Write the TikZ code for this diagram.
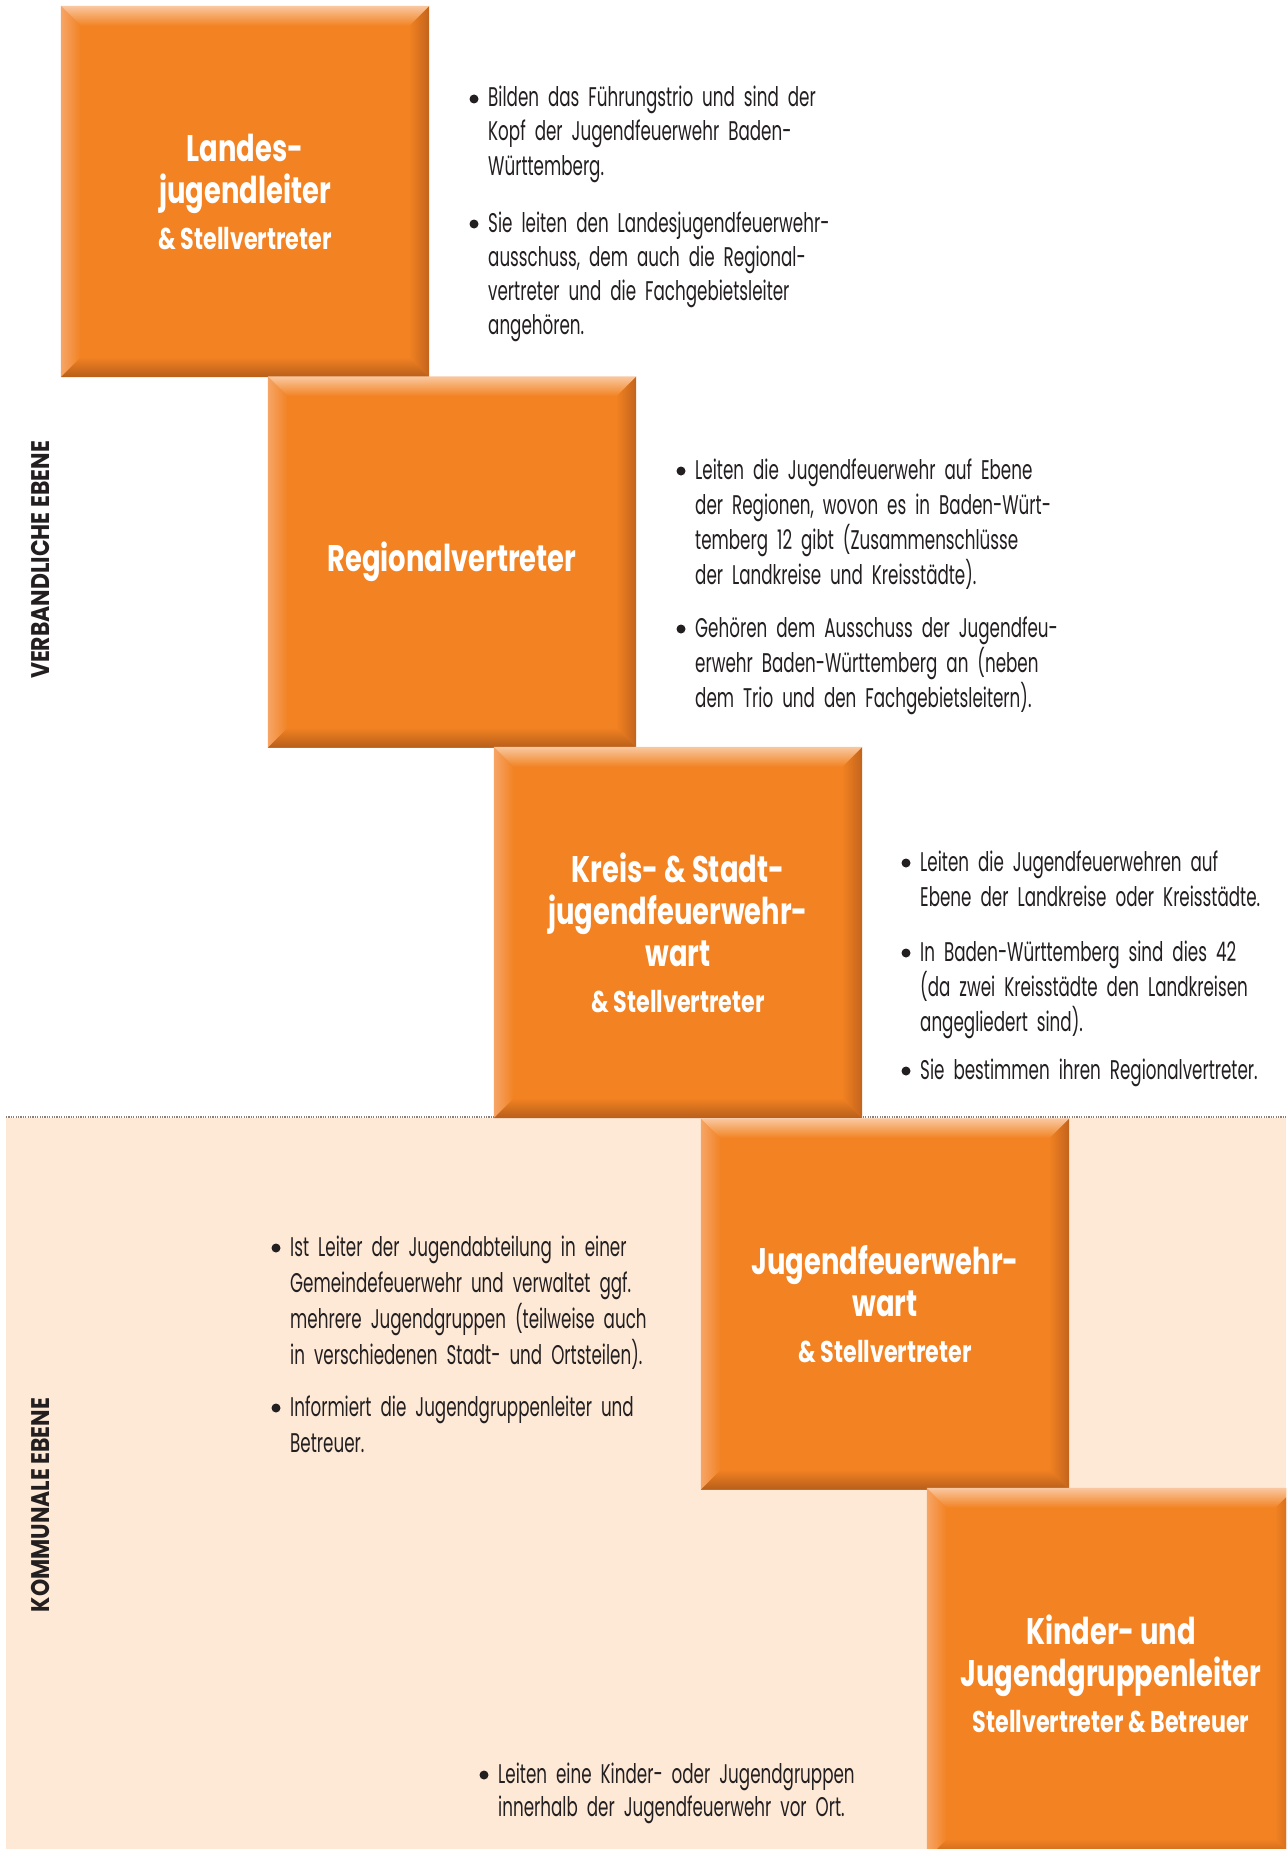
\documentclass[tikz,border=0pt]{standalone}
\usepackage{fontspec}
\usetikzlibrary{calc}

% condensed geometric faces for body text, box titles and level labels
\newfontfamily\bodyfont{Poppins}[FakeStretch=0.62]
\newfontfamily\headfont{Poppins}[FakeStretch=0.74]
\newfontfamily\sidefont{Poppins}[FakeStretch=0.86]

\definecolor{orangemain}{HTML}{F28222}
\definecolor{lightT}{HTML}{F9C8A0}
\definecolor{lightL}{HTML}{F6A566}
\definecolor{darkR}{HTML}{C2631C}
\definecolor{darkB}{HTML}{B75E1B}
\definecolor{pale}{HTML}{FDE9D6}
\definecolor{textdark}{HTML}{231F20}
\definecolor{dotgray}{HTML}{8A7F7A}

\def\bw{20}

% bevelled edges of an orange box node
\newcommand\bevel[1]{%
  \shade[left color=lightL, right color=orangemain]
    (#1.north west) -- ($(#1.north west)+(\bw,-\bw)$) -- ($(#1.south west)+(\bw,\bw)$) -- (#1.south west) -- cycle;
  \shade[left color=orangemain, right color=darkR]
    (#1.north east) -- (#1.south east) -- ($(#1.south east)+(-\bw,\bw)$) -- ($(#1.north east)+(-\bw,-\bw)$) -- cycle;
  \shade[top color=lightT, bottom color=orangemain]
    (#1.north west) -- (#1.north east) -- ($(#1.north east)+(-\bw,-\bw)$) -- ($(#1.north west)+(\bw,-\bw)$) -- cycle;
  \shade[top color=orangemain, bottom color=darkB]
    (#1.south west) -- ($(#1.south west)+(\bw,\bw)$) -- ($(#1.south east)+(-\bw,\bw)$) -- (#1.south east) -- cycle;
}

\newcommand\subline[1]{{\fontsize{30}{34}\selectfont #1}}
\newcommand\dotat[1]{\fill[textdark] ($(#1.base west)+(-14,8)$) circle (4.5);}

\tikzset{
  obox/.style={fill=orangemain, minimum width=368, minimum height=371, inner sep=0pt,
    text=white, align=center, font=\headfont\bfseries\fontsize{37}{42}\selectfont},
  itemtext/.style={anchor=base west, align=left, text width=440, inner sep=0pt,
    text=textdark, font=\bodyfont\fontsize{27}{#1}\selectfont},
  itemtext/.default=34,
  sidelabel/.style={rotate=90, text=textdark, inner sep=0pt,
    font=\sidefont\bfseries\fontsize{25.5}{30}\selectfont},
}

\begin{document}
\begin{tikzpicture}[x=1pt,y=1pt]
  \clip (0,-1849) rectangle (1286,0);
  \fill[white] (0,-1849) rectangle (1286,0);

  % municipal level background and divider
  \fill[pale] (6,-1118) rectangle (1286,-1849);
  \draw[dotgray, line width=1.6, dash pattern=on 1.2 off 1.2] (6,-1117) -- (1286,-1117);

  % level labels
  \node[sidelabel] (lv1) at (41,-560) {VERBANDLICHE EBENE};
  \node[sidelabel] (lv2) at (41,-1505) {KOMMUNALE EBENE};

  % the five role boxes
  \node[obox] (b1) at (245,-191.5) {Landes-\\jugendleiter\\[4pt]\subline{\& Stellvertreter}};
  \bevel{b1}
  \node[obox] (b2) at (452,-562) {Regionalvertreter};
  \bevel{b2}
  \node[obox] (b3) at (678,-932.5) {Kreis- \& Stadt-\\jugendfeuerwehr-\\wart\\[4pt]\subline{\& Stellvertreter}};
  \bevel{b3}
  \node[obox] (b4) at (885,-1304) {Jugendfeuerwehr-\\wart\\[4pt]\subline{\& Stellvertreter}};
  \bevel{b4}
  \node[obox] (b5) at (1111,-1673.5) {Kinder- und\\Jugendgruppenleiter\\[4pt]\subline{Stellvertreter \& Betreuer}};
  \bevel{b5}

  % descriptions
  \node[itemtext] (t1a) at (488,-107) {Bilden das Führungstrio und sind der\\Kopf der Jugendfeuerwehr Baden-\\Württemberg.};
  \node[itemtext] (t1b) at (488,-232) {Sie leiten den Landesjugendfeuerwehr-\\ausschuss, dem auch die Regional-\\vertreter und die Fachgebietsleiter\\angehören.};
  \dotat{t1a}\dotat{t1b}

  \node[itemtext=35] (t2a) at (695,-479) {Leiten die Jugendfeuerwehr auf Ebene\\der Regionen, wovon es in Baden-Würt-\\temberg 12 gibt (Zusammenschlüsse\\der Landkreise und Kreisstädte).};
  \node[itemtext=35] (t2b) at (695,-637) {Gehören dem Ausschuss der Jugendfeu-\\erwehr Baden-Württemberg an (neben\\dem Trio und den Fachgebietsleitern).};
  \dotat{t2a}\dotat{t2b}

  \node[itemtext=35] (t3a) at (920,-871) {Leiten die Jugendfeuerwehren auf\\Ebene der Landkreise oder Kreisstädte.};
  \node[itemtext=35] (t3b) at (920,-961) {In Baden-Württemberg sind dies 42\\(da zwei Kreisstädte den Landkreisen\\angegliedert sind).};
  \node[itemtext=35] (t3c) at (920,-1079) {Sie bestimmen ihren Regionalvertreter.};
  \dotat{t3a}\dotat{t3b}\dotat{t3c}

  \node[itemtext=36] (t4a) at (290,-1256) {Ist Leiter der Jugendabteilung in einer\\Gemeindefeuerwehr und verwaltet ggf.\\mehrere Jugendgruppen (teilweise auch\\in verschiedenen Stadt- und Ortsteilen).};
  \node[itemtext=36] (t4b) at (290,-1416) {Informiert die Jugendgruppenleiter und\\Betreuer.};
  \dotat{t4a}\dotat{t4b}

  \node[itemtext=33] (t5a) at (498,-1783) {Leiten eine Kinder- oder Jugendgruppen\\innerhalb der Jugendfeuerwehr vor Ort.};
  \dotat{t5a}
\end{tikzpicture}
\end{document}
